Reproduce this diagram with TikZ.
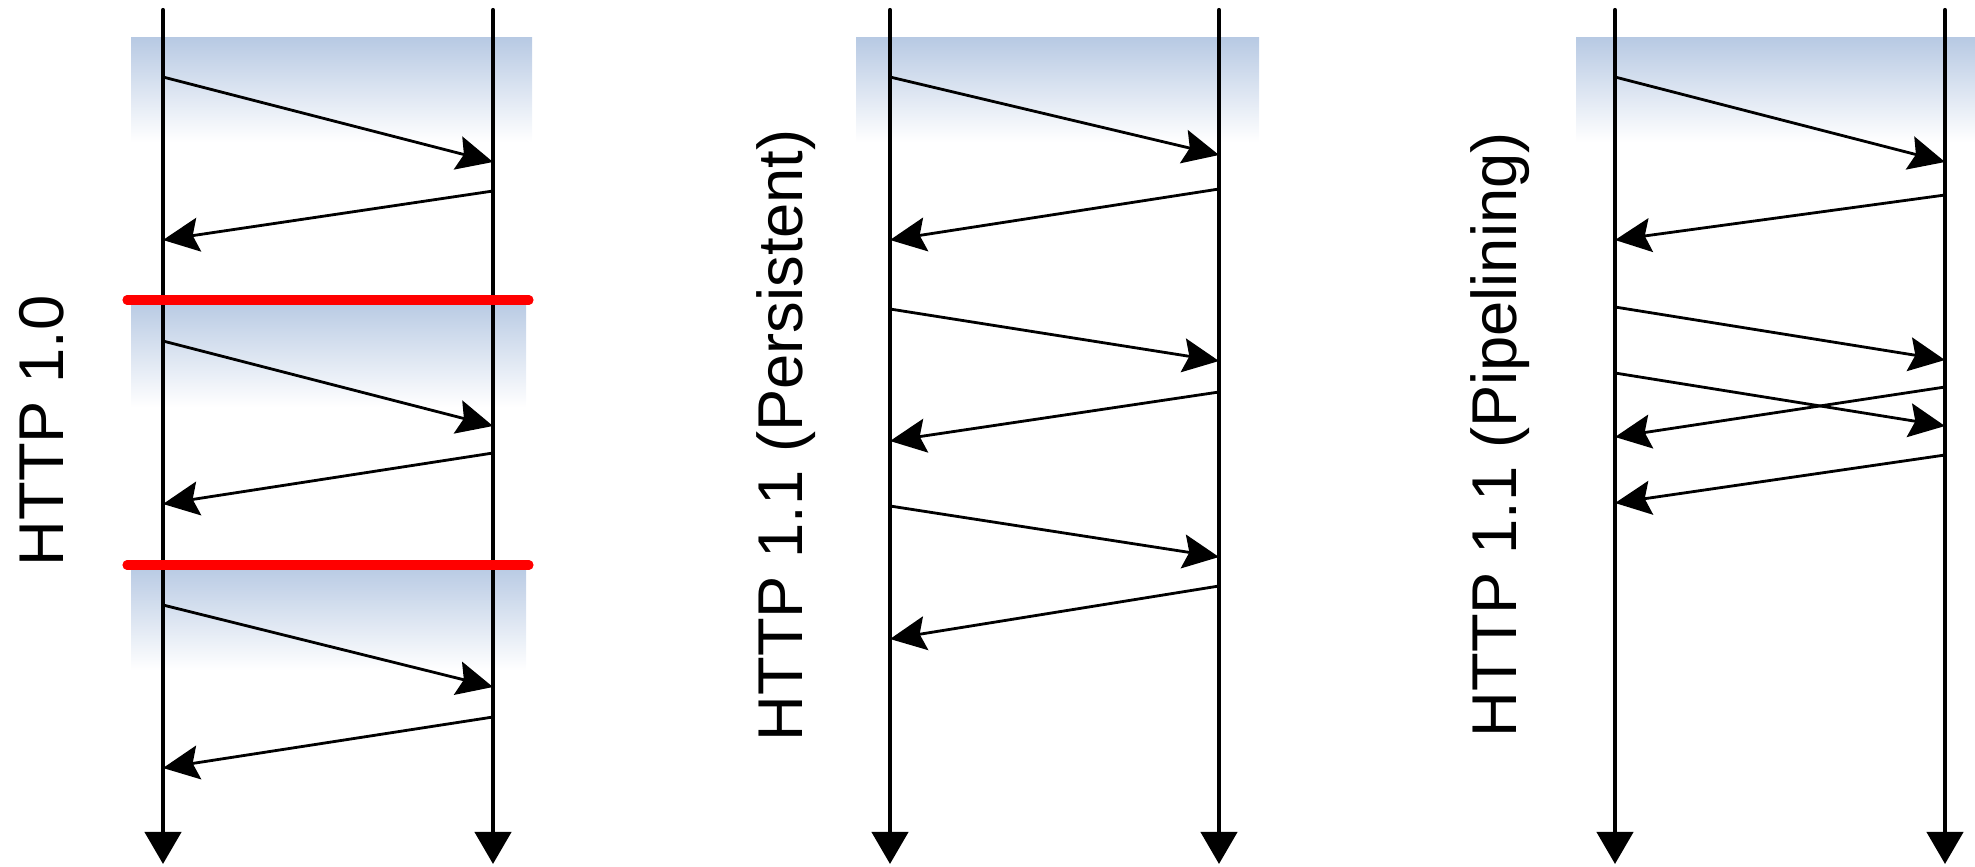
\documentclass[tikz,border=0pt]{standalone}
\usepackage{fontspec}
\setmainfont{Liberation Sans}
\usetikzlibrary{arrows.meta}
\definecolor{band}{RGB}{183, 201, 227}
\definecolor{cut}{RGB}{255, 0, 0}

\begin{document}
\begin{tikzpicture}[
	x=0.01cm, y=-0.01cm,
	% Styles for lifelines, messages and connection bands
	lifeline/.style={line width=1.2pt, line cap=round, -{Triangle[length=0.32cm, width=0.36cm]}},
	msg/.style={line width=0.8pt, -{Stealth[length=0.36cm, width=0.34cm, inset=0.06cm]}},
	connband/.style={top color=band, bottom color=white},
	cutline/.style={draw=cut, line width=2.6pt, line cap=round},
	version/.style={font=\fontsize{18}{18}\selectfont, rotate=90, anchor=base west, inner sep=0pt}
	]
	\useasboundingbox (0,0) rectangle (1975,866);
	
	% ==========================================
	% 1. HTTP 1.0 (one connection per request)
	% ==========================================
	\shade[connband] (131,37) rectangle (532,142);
	\shade[connband] (131,300) rectangle (526,407);
	\shade[connband] (131,565) rectangle (526,670);
	
	\coordinate (A-ctop) at (163,10);  \coordinate (A-cbot) at (163,864);
	\coordinate (A-stop) at (493,10);  \coordinate (A-sbot) at (493,864);
	\draw[lifeline] (A-ctop) -- (A-cbot);
	\draw[lifeline] (A-stop) -- (A-sbot);
	
	% connection closed after each reply
	\coordinate (A-cut1w) at (127,300);  \coordinate (A-cut1e) at (529,300);
	\coordinate (A-cut2w) at (127,565);  \coordinate (A-cut2e) at (529,565);
	\draw[cutline] (A-cut1w) -- (A-cut1e);
	\draw[cutline] (A-cut2w) -- (A-cut2e);
	
	\coordinate (A-q1) at (163,77);   \coordinate (A-r1) at (493,162);
	\coordinate (A-q2) at (493,191);  \coordinate (A-r2) at (163,240);
	\coordinate (A-q3) at (163,341);  \coordinate (A-r3) at (493,426);
	\coordinate (A-q4) at (493,453);  \coordinate (A-r4) at (163,504);
	\coordinate (A-q5) at (163,605);  \coordinate (A-r5) at (493,687);
	\coordinate (A-q6) at (493,717);  \coordinate (A-r6) at (163,768);
	\draw[msg] (A-q1) -- (A-r1);
	\draw[msg] (A-q2) -- (A-r2);
	\draw[msg] (A-q3) -- (A-r3);
	\draw[msg] (A-q4) -- (A-r4);
	\draw[msg] (A-q5) -- (A-r5);
	\draw[msg] (A-q6) -- (A-r6);
	
	\node[version] (lblA) at (63,567) {HTTP 1.0};
	
	% ==========================================
	% 2. HTTP 1.1 PERSISTENT (one connection, sequential)
	% ==========================================
	\shade[connband] (856,37) rectangle (1259,142);
	
	\coordinate (B-ctop) at (890,10);   \coordinate (B-cbot) at (890,864);
	\coordinate (B-stop) at (1219,10);  \coordinate (B-sbot) at (1219,864);
	\draw[lifeline] (B-ctop) -- (B-cbot);
	\draw[lifeline] (B-stop) -- (B-sbot);
	
	\coordinate (B-q1) at (890,77);    \coordinate (B-r1) at (1219,155);
	\coordinate (B-q2) at (1219,189);  \coordinate (B-r2) at (890,240);
	\coordinate (B-q3) at (890,309);   \coordinate (B-r3) at (1219,361);
	\coordinate (B-q4) at (1219,392);  \coordinate (B-r4) at (890,441);
	\coordinate (B-q5) at (890,506);   \coordinate (B-r5) at (1219,557);
	\coordinate (B-q6) at (1219,586);  \coordinate (B-r6) at (890,639);
	\draw[msg] (B-q1) -- (B-r1);
	\draw[msg] (B-q2) -- (B-r2);
	\draw[msg] (B-q3) -- (B-r3);
	\draw[msg] (B-q4) -- (B-r4);
	\draw[msg] (B-q5) -- (B-r5);
	\draw[msg] (B-q6) -- (B-r6);
	
	\node[version] (lblB) at (802,742) {HTTP 1.1 (Persistent)};
	
	% ==========================================
	% 3. HTTP 1.1 PIPELINING (requests sent back to back)
	% ==========================================
	\shade[connband] (1576,37) rectangle (1975,142);
	
	\coordinate (C-ctop) at (1615,10);  \coordinate (C-cbot) at (1615,864);
	\coordinate (C-stop) at (1945,10);  \coordinate (C-sbot) at (1945,864);
	\draw[lifeline] (C-ctop) -- (C-cbot);
	\draw[lifeline] (C-stop) -- (C-sbot);
	
	\coordinate (C-q1) at (1615,77);   \coordinate (C-r1) at (1945,162);
	\coordinate (C-q2) at (1945,195);  \coordinate (C-r2) at (1615,240);
	\coordinate (C-q3) at (1615,307);  \coordinate (C-r3) at (1945,360);
	\coordinate (C-q4) at (1615,373);  \coordinate (C-r4) at (1945,426);
	\coordinate (C-q5) at (1945,387);  \coordinate (C-r5) at (1615,437);
	\coordinate (C-q6) at (1945,455);  \coordinate (C-r6) at (1615,503);
	\draw[msg] (C-q1) -- (C-r1);
	\draw[msg] (C-q2) -- (C-r2);
	\draw[msg] (C-q3) -- (C-r3);
	\draw[msg] (C-q4) -- (C-r4);
	\draw[msg] (C-q5) -- (C-r5);
	\draw[msg] (C-q6) -- (C-r6);
	
	\node[version] (lblC) at (1516,738) {HTTP 1.1 (Pipelining)};
	
\end{tikzpicture}
\end{document}
